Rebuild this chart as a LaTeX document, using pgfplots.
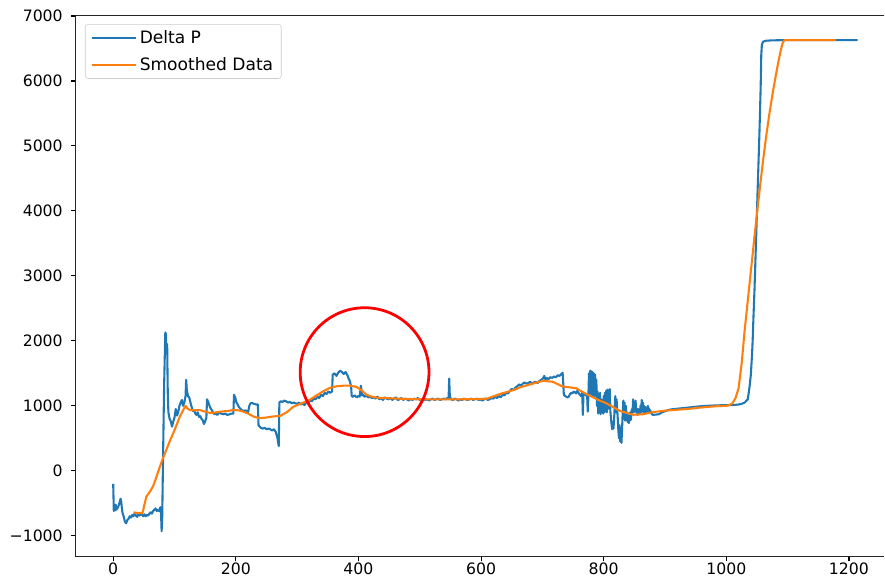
\documentclass[border=0pt]{standalone}
\usepackage{fontspec}
\setmainfont{DejaVu Sans}
\usepackage{pgfplots}
\pgfplotsset{compat=1.18}
\usetikzlibrary{calc}

\definecolor{tabblue}{HTML}{1F77B4}
\definecolor{taborange}{HTML}{FF7F0E}

\begin{document}
\begin{tikzpicture}
\begin{axis}[
  name=ax,
  scale only axis,
  width=582.5pt, height=389.7pt,
  xmin=-60.8, xmax=1257.9,
  ymin=-1318, ymax=7008,
  axis line style={draw=none},
  tick pos=left,
  tick align=outside,
  major tick length=3.5pt,
  every tick/.style={black, line width=0.8pt},
  xtick={0,200,400,600,800,1000,1200},
  xticklabels={0,200,400,600,800,1000,1200},
  ytick={-1000,0,1000,2000,3000,4000,5000,6000,7000},
  yticklabels={−1000,0,1000,2000,3000,4000,5000,6000,7000},
  ticklabel style={font=\fontsize{11.3}{13}\selectfont},
  xticklabel style={yshift=2.5pt},
  yticklabel style={xshift=-2.5pt},
  clip=false,
  legend style={
    at={(0,1)}, anchor=north west, xshift=6.5pt, yshift=-6.2pt,
    draw=black!20, rounded corners=2pt, fill=white,
    font=\fontsize{12.3}{14}\selectfont,
    inner xsep=3.8pt, inner ysep=2.5pt,
    row sep=4.3pt,
  },
  legend cell align=left,
  legend image code/.code={
    \draw[#1, line width=1.1pt] (0pt,0pt) -- (26pt,0pt);
    \path (0pt,0pt) -- (32pt,0pt);},
]

% raw pressure difference
\addplot[tabblue, line width=1.5pt, line join=round] coordinates {
(0,-200) (1,-620) (2,-560) (3,-610) (4,-520) (5,-600) (6,-590) (8,-560)
(10,-500) (12,-430) (13,-470) (14,-560) (15,-640) (17,-700) (19,-780) (21,-810)
(23,-760) (25,-740) (27,-700) (29,-720) (31,-680) (33,-700) (35,-660) (37,-690)
(39,-710) (41,-660) (43,-690) (45,-650) (47,-680) (49,-700) (51,-670) (53,-700)
(55,-680) (57,-690) (59,-660) (61,-640) (63,-660) (65,-620) (67,-600) (69,-580)
(71,-620) (73,-600) (75,-620) (77,-560) (78,-650) (79,-930) (80,-700) (81,0)
(83,1300) (85,2130) (86,2100) (87,1800) (88,1950) (89,1200) (90,900) (92,800)
(94,760) (96,680) (98,760) (100,820) (102,950) (104,850) (106,900) (108,1000)
(110,1050) (112,1090) (114,1000) (116,1050) (118,1150) (119,1400) (120,1250) (122,1150)
(124,1130) (126,1050) (128,980) (130,920) (132,930) (134,880) (136,860) (138,900)
(140,830) (142,840) (144,800) (146,780) (148,720) (150,760) (152,820) (153,1100)
(155,1060) (157,1000) (159,960) (161,930) (163,900) (165,870) (167,880) (170,860)
(173,900) (176,880) (180,870) (183,880) (186,860) (190,870) (193,880) (196,880)
(197,1170) (199,1130) (201,1050) (203,1020) (205,980) (207,960) (209,940) (212,920)
(215,930) (218,920) (220,900) (222,1000) (224,1040) (227,1040) (230,1030) (233,1020)
(236,1020) (237,700) (239,680) (241,660) (244,650) (247,660) (250,640) (253,650)
(256,640) (259,620) (262,640) (265,600) (268,500) (270,380) (271,1050) (273,1070)
(276,1060) (279,1080) (282,1070) (285,1050) (288,1060) (291,1040) (294,1050) (297,1040)
(300,1030) (303,1050) (306,1020) (309,1040) (312,1010) (315,1060) (318,1040) (321,1090)
(324,1070) (327,1110) (330,1100) (333,1140) (336,1120) (339,1170) (342,1150) (345,1200)
(348,1180) (351,1220) (354,1200) (357,1220) (358,1480) (361,1500) (364,1460) (367,1510)
(370,1540) (373,1520) (376,1490) (379,1520) (382,1470) (384,1420) (386,1380) (388,1300)
(389,1150) (391,1140) (394,1160) (397,1130) (400,1150) (402,1140) (404,1310) (406,1160)
(408,1170) (410,1140) (413,1160) (416,1130) (419,1140) (422,1120) (425,1130) (428,1110)
(431,1140) (434,1100) (437,1120) (440,1090) (443,1130) (446,1110) (449,1100) (452,1120)
(455,1090) (458,1110) (461,1130) (464,1090) (467,1100) (470,1120) (473,1090) (476,1110)
(479,1100) (482,1080) (485,1110) (488,1090) (491,1110) (494,1100) (497,1120) (500,1090)
(503,1100) (506,1110) (509,1090) (512,1100) (515,1080) (518,1100) (521,1110) (524,1090)
(527,1100) (530,1110) (533,1090) (536,1100) (539,1110) (542,1100) (545,1120) (547,1110)
(548,1420) (549,1150) (551,1100) (554,1090) (557,1110) (560,1100) (563,1080) (566,1100)
(569,1090) (572,1110) (575,1100) (578,1090) (581,1100) (584,1110) (587,1090) (590,1100)
(593,1110) (596,1090) (599,1100) (602,1080) (605,1100) (608,1110) (611,1090) (614,1100)
(617,1120) (620,1110) (623,1140) (626,1120) (629,1150) (632,1130) (635,1170) (638,1160)
(641,1200) (644,1190) (647,1230) (650,1260) (653,1240) (656,1280) (659,1300) (662,1330)
(665,1310) (668,1340) (671,1360) (674,1340) (677,1350) (680,1370) (683,1340) (686,1360)
(689,1370) (692,1350) (695,1380) (698,1400) (701,1420) (703,1460) (705,1400) (707,1430)
(710,1410) (713,1440) (716,1430) (719,1450) (722,1440) (725,1470) (728,1460) (731,1490)
(733,1510) (734,1350) (735,1170) (737,1150) (739,1140) (741,1130) (743,1140) (745,1180)
(747,1200) (749,1190) (751,1220) (753,1210) (755,1190) (757,1230) (759,1200) (761,1170)
(763,1150) (765,1200) (766,860) (767,1180) (769,1190) (771,1160) (773,1150) (774,910)
(775,1140) (776,1500) (777,1180) (778,1540) (779,1200) (780,1530) (781,1150) (782,1520)
(783,1160) (784,1500) (785,1150) (786,1480) (787,1180) (788,1400) (789,1000) (790,1220)
(791,880) (792,1150) (793,900) (794,1200) (795,870) (796,1100) (797,950) (798,1000)
(799,880) (800,1150) (801,900) (802,1200) (803,950) (804,1230) (805,900) (806,1250)
(807,950) (808,1240) (809,1000) (810,1257) (811,900) (812,800) (813,700) (814,640)
(815,750) (816,650) (817,800) (818,1000) (819,1150) (820,900) (821,1100) (822,950)
(823,800) (824,600) (825,500) (826,700) (827,450) (828,600) (829,430) (830,650)
(831,900) (832,1080) (833,800) (834,1050) (835,770) (836,1000) (837,850) (838,900)
(839,750) (840,850) (841,733) (842,800) (843,900) (844,780) (845,850) (846,950)
(847,900) (848,1100) (849,900) (850,1050) (851,920) (852,1080) (853,900) (854,960)
(855,860) (856,950) (857,870) (858,930) (859,880) (860,1000) (861,900) (862,1090)
(863,920) (864,1050) (865,900) (866,1000) (867,880) (868,980) (869,900) (870,950)
(871,890) (872,1000) (873,900) (874,960) (875,890) (876,930) (877,900) (878,880)
(880,860) (885,865) (890,870) (895,900) (900,915) (904,930) (910,945) (915,950)
(920,955) (925,960) (930,965) (940,975) (950,985) (960,995) (970,1000) (980,1005)
(990,1008) (1000,1010) (1010,1012) (1015,1015) (1020,1020) (1025,1030) (1030,1050)
(1033,1080) (1035,1100) (1038,1300) (1040,1480) (1042,1800) (1043,2015) (1044,2300)
(1046,2800) (1048,3400) (1050,4000) (1052,4600) (1054,5200) (1056,5900) (1057,6400)
(1058,6560) (1060,6605) (1065,6620) (1075,6625) (1100,6630) (1150,6630) (1214,6630)
};
\addlegendentry{Delta P}

% moving-average curve
\addplot[taborange, line width=1.5pt, line join=round] coordinates {
(33,-640) (40,-650) (48,-650) (50,-560) (54,-400) (60,-320) (65,-240) (70,-110)
(76,60) (81,190) (87,330) (92,450) (98,580) (104,720) (109,840) (114,930)
(118,1000) (121,960) (125,935) (132,930) (141,935) (150,910) (158,890) (165,895)
(175,910) (186,920) (196,935) (205,930) (212,910) (220,880) (230,830) (240,810)
(250,820) (260,835) (272,845) (283,900) (293,980) (300,1010) (310,1050) (320,1090)
(330,1150) (342,1220) (352,1270) (364,1300) (376,1310) (386,1310) (397,1290) (405,1240)
(413,1170) (422,1140) (430,1125) (445,1118) (460,1112) (480,1105) (500,1100) (530,1100)
(560,1100) (590,1102) (610,1110) (630,1180) (645,1220) (657,1256) (663,1282) (680,1330)
(701,1385) (717,1370) (733,1297) (744,1285) (755,1270) (771,1185) (793,1082) (804,1041)
(826,923) (848,862) (864,870) (880,903) (900,925) (935,950) (960,975) (985,995)
(1000,1000) (1005,1010) (1010,1040) (1015,1120) (1020,1270) (1025,1650) (1030,2170)
(1035,2620) (1040,3070) (1045,3520) (1050,3960) (1055,4380) (1060,4780) (1065,5150)
(1070,5480) (1075,5780) (1080,6050) (1085,6300) (1089,6480) (1092,6590) (1095,6630)
(1179,6630)
};
\addlegendentry{Smoothed Data}

% highlighted region
\draw[red, line width=2pt] (axis cs:410,1518) circle[radius=46.4pt];
\end{axis}
% spines: left, bottom and top
\draw[line width=0.8pt, black!85] (ax.north east) -- (ax.north west) -- (ax.south west) -- (ax.south east);
\useasboundingbox ($(ax.south west)+(-54.7pt,-18.9pt)$) rectangle ($(ax.north east)+(0pt,11.16pt)$);
\end{tikzpicture}
\end{document}
